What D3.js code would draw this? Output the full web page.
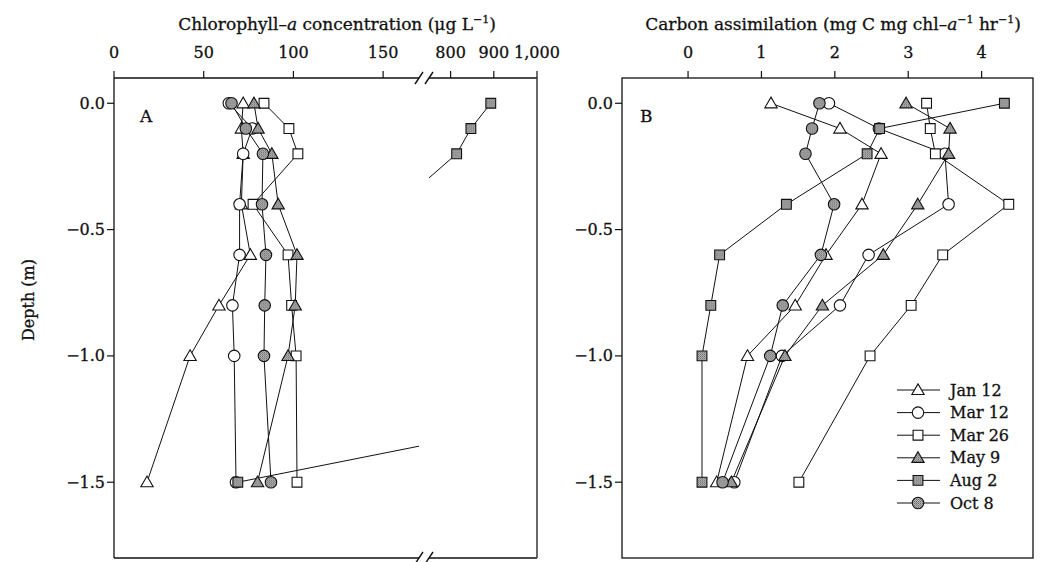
<!DOCTYPE html>
<html><head><meta charset="utf-8">
<script src="https://cdn.jsdelivr.net/npm/d3@7"></script>
<style>
body{margin:0;background:#fff}
svg{display:block}
text{font-family:"DejaVu Serif",serif;fill:#111;font-size:16px;stroke:#111;stroke-width:0.3px}
</style>
</head><body><svg id="c" width="1042" height="562"></svg>
<script>
// ---------------- DATA ----------------
const depths = [0, -0.1, -0.2, -0.4, -0.6, -0.8, -1.0, -1.5];
const seriesNames = ["Jan 12", "Mar 12", "Mar 26", "May 9", "Aug 2", "Oct 8"];
const seriesShapes = ["triangle", "circle", "square", "triangle", "square", "circle"];
const seriesFilled = [false, false, false, true, true, true];

// Panel A: chlorophyll-a (µg/L); null = not readable (inside axis break)
const chlJan12 = [72, 71, 72, 71, 76, 58.5, 42.4, 18.4];
const chlMar12 = [64, 77, 72, 70, 70, 66, 67, 68];
const chlMar26 = [83.6, 97.5, 102.5, 77.5, 97, 99, 101.5, 102];
const chlMay9  = [78, 80.3, 88, 91.5, 102, 101, 97, 80];
const chlAug2  = [893, 847, 814, 680, null, null, 423, 69];
const chlOct8  = [65.5, 73.5, 83, 82.5, 84.7, 84, 83.6, 87.5];

// Panel B: carbon assimilation (mg C mg chl-a^-1 hr^-1)
const caJan12 = [1.13, 2.07, 2.63, 2.37, 1.88, 1.46, 0.81, 0.39];
const caMar12 = [1.92, 2.6, 3.5, 3.55, 2.46, 2.07, 1.28, 0.63];
const caMar26 = [3.25, 3.30, 3.37, 4.37, 3.47, 3.04, 2.48, 1.51];
const caMay9  = [2.97, 3.57, 3.55, 3.13, 2.66, 1.83, 1.32, 0.59];
const caAug2  = [4.31, 2.61, 2.44, 1.34, 0.43, 0.31, 0.19, 0.19];
const caOct8  = [1.79, 1.69, 1.60, 1.99, 1.81, 1.29, 1.12, 0.47];

const chlSeries = [chlJan12, chlMar12, chlMar26, chlMay9, chlAug2, chlOct8];
const caSeries  = [caJan12, caMar12, caMar26, caMay9, caAug2, caOct8];

const depthTicks = [0, -0.5, -1.0, -1.5];
const depthTickLabels = ["0.0", "\u22120.5", "\u22121.0", "\u22121.5"];
const chlTicks = [0, 50, 100, 150, 800, 900, 1000];
const chlTickLabels = ["0", "50", "100", "150", "800", "900", "1,000"];
const caTicks = [0, 1, 2, 3, 4];
const caTickLabels = ["0", "1", "2", "3", "4"];

// ---------------- LAYOUT ----------------
const svg = d3.select("#c");
const yTop = 78, yBot = 558;
const A = {l: 114, r: 537, breakL: 419, breakR: 429};
const B = {l: 622, r: 1033};
const INK = "#111";

const y = d3.scaleLinear().domain([0.1, -1.8]).range([yTop, yBot]);
const xAL = d3.scaleLinear().domain([0, 170]).range([A.l, A.breakL]);
const xAR = d3.scaleLinear().domain([750, 1000]).range([A.breakR, A.r]);
const xA = v => v <= 170 ? xAL(v) : (v >= 750 ? xAR(v) : null);
const xB = d3.scaleLinear().domain([-0.9, 4.7]).range([B.l, B.r]);

const defs = svg.append("defs");
defs.append("clipPath").attr("id", "clipAL").append("rect")
  .attr("x", A.l).attr("y", yTop).attr("width", A.breakL - A.l).attr("height", yBot - yTop);
defs.append("clipPath").attr("id", "clipAR").append("rect")
  .attr("x", A.breakR).attr("y", yTop).attr("width", A.r - A.breakR).attr("height", yBot - yTop);
const pat = defs.append("pattern").attr("id", "dots").attr("patternUnits", "userSpaceOnUse")
  .attr("width", 2).attr("height", 2);
pat.append("rect").attr("width", 2).attr("height", 2).attr("fill", "#b4b4b4");
pat.append("rect").attr("width", 1).attr("height", 1).attr("fill", "#6a6a6a");
pat.append("rect").attr("x", 1).attr("y", 1).attr("width", 1).attr("height", 1).attr("fill", "#8a8a8a");
const GRAY = "url(#dots)";

function symbolFor(shape) {
  if (shape === "triangle") return d3.symbol().type(d3.symbolTriangle).size(66)();
  if (shape === "circle") return d3.symbol().type(d3.symbolCircle).size(104)();
  return d3.symbol().type(d3.symbolSquare).size(96)();
}
function drawMarker(g, cx, cy, i) {
  g.append("path").attr("d", symbolFor(seriesShapes[i]))
    .attr("transform", `translate(${cx},${cy + (seriesShapes[i] === "triangle" ? 1 : 0)})`)
    .attr("fill", seriesFilled[i] ? GRAY : "#fff")
    .attr("stroke", INK).attr("stroke-width", 1.1);
}

// ---------------- PANEL A ----------------
const gA = svg.append("g");
[[A.l, A.breakL], [A.breakR, A.r]].forEach(([a, b]) => {
  gA.append("line").attr("x1", a).attr("x2", b).attr("y1", yTop).attr("y2", yTop).attr("stroke", INK).attr("stroke-width", 1.3);
  gA.append("line").attr("x1", a).attr("x2", b).attr("y1", yBot).attr("y2", yBot).attr("stroke", INK).attr("stroke-width", 1.3);
});
gA.append("line").attr("x1", A.l).attr("x2", A.l).attr("y1", yTop).attr("y2", yBot).attr("stroke", INK).attr("stroke-width", 1.3);
gA.append("line").attr("x1", A.r).attr("x2", A.r).attr("y1", yTop).attr("y2", yBot).attr("stroke", "#444").attr("stroke-width", 1.6);
[yTop, yBot].forEach(yy => {
  [A.breakL, A.breakR].forEach(xx => {
    gA.append("line").attr("x1", xx - 4).attr("y1", yy + 6).attr("x2", xx + 4).attr("y2", yy - 6)
      .attr("stroke", INK).attr("stroke-width", 1.4);
  });
});
chlTicks.forEach((t, k) => {
  const xx = xA(t);
  gA.append("line").attr("x1", xx).attr("x2", xx).attr("y1", yTop).attr("y2", yTop - 7).attr("stroke", INK).attr("stroke-width", 1.2);
  gA.append("text").attr("x", xx).attr("y", yTop - 20).attr("text-anchor", "middle").text(chlTickLabels[k]);
});
function yAxis(g, x0) {
  depthTicks.forEach((t, k) => {
    g.append("line").attr("x1", x0).attr("x2", x0 - 7).attr("y1", y(t)).attr("y2", y(t)).attr("stroke", INK).attr("stroke-width", 1.2);
    g.append("text").attr("x", x0 - 9).attr("y", y(t) + 5.5).attr("text-anchor", "end").text(depthTickLabels[k]);
  });
}
yAxis(gA, A.l);

const lineGen = sc => d3.line().defined(d => d[0] !== null).x(d => sc(d[0])).y(d => y(d[1]));
chlSeries.forEach((vals, i) => {
  const pts = vals.map((v, j) => [v, depths[j]]);
  gA.append("path").attr("d", lineGen(xAL)(pts)).attr("clip-path", "url(#clipAL)")
    .attr("fill", "none").attr("stroke", INK).attr("stroke-width", 1);
  gA.append("path").attr("d", lineGen(xAR)(pts)).attr("clip-path", "url(#clipAR)")
    .attr("fill", "none").attr("stroke", INK).attr("stroke-width", 1);
});
chlSeries.forEach((vals, i) => {
  vals.forEach((v, j) => {
    if (v === null) return;
    const xx = xA(v);
    if (xx === null) return;
    drawMarker(gA, xx, y(depths[j]), i);
  });
});
gA.append("text").attr("x", 140).attr("y", 122).style("font-size", "17px").text("A");

const tA = gA.append("text").attr("x", 337).attr("y", 30).attr("text-anchor", "middle").style("font-size", "17px");
tA.append("tspan").text("Chlorophyll\u2013");
tA.append("tspan").style("font-style", "italic").text("a");
tA.append("tspan").text(" concentration (\u03bcg L");
tA.append("tspan").attr("dy", -7).style("font-size", "11px").text("\u22121");
tA.append("tspan").attr("dy", 7).text(")");

// ---------------- PANEL B ----------------
const gB = svg.append("g");
gB.append("rect").attr("x", B.l).attr("y", yTop).attr("width", B.r - B.l).attr("height", yBot - yTop)
  .attr("fill", "none").attr("stroke", INK).attr("stroke-width", 1.3);
caTicks.forEach((t, k) => {
  const xx = xB(t);
  gB.append("line").attr("x1", xx).attr("x2", xx).attr("y1", yTop).attr("y2", yTop - 7).attr("stroke", INK).attr("stroke-width", 1.2);
  gB.append("text").attr("x", xx).attr("y", yTop - 20).attr("text-anchor", "middle").text(caTickLabels[k]);
});
yAxis(gB, B.l);
const lineB = lineGen(xB);
caSeries.forEach((vals, i) => {
  const pts = vals.map((v, j) => [v, depths[j]]);
  gB.append("path").attr("d", lineB(pts)).attr("fill", "none").attr("stroke", INK).attr("stroke-width", 1);
});
caSeries.forEach((vals, i) => {
  vals.forEach((v, j) => drawMarker(gB, xB(v), y(depths[j]), i));
});
gB.append("text").attr("x", 640).attr("y", 122).style("font-size", "17px").text("B");

const tB = gB.append("text").attr("x", 833).attr("y", 30).attr("text-anchor", "middle").style("font-size", "17px");
tB.append("tspan").text("Carbon assimilation (mg C mg chl\u2013");
tB.append("tspan").style("font-style", "italic").text("a");
tB.append("tspan").attr("dy", -7).style("font-size", "11px").text("\u22121");
tB.append("tspan").attr("dy", 7).text(" hr");
tB.append("tspan").attr("dy", -7).style("font-size", "11px").text("\u22121");
tB.append("tspan").attr("dy", 7).text(")");

const lg = gB.append("g");
seriesNames.forEach((name, i) => {
  const yy = 390 + i * 22.6;
  lg.append("line").attr("x1", 897).attr("x2", 940).attr("y1", yy).attr("y2", yy).attr("stroke", INK).attr("stroke-width", 1);
  drawMarker(lg, 918, yy, i);
  lg.append("text").attr("x", 950).attr("y", yy + 5.5).text(name);
});

svg.append("text").attr("transform", "translate(34,300) rotate(-90)").attr("text-anchor", "middle").text("Depth (m)");
</script>
</body></html>
